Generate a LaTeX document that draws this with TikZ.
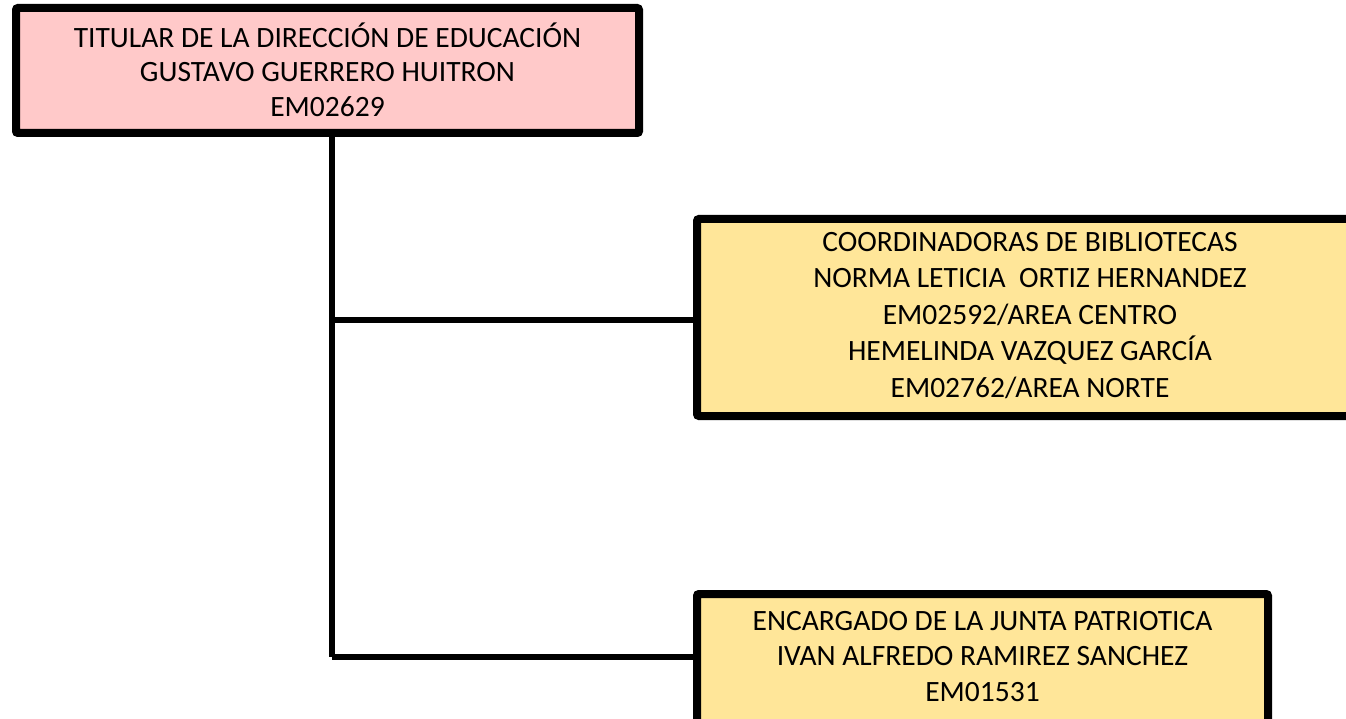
\documentclass[tikz,border=0pt]{standalone}
\usepackage{fontspec}
\setmainfont{Carlito}
\definecolor{pinkfill}{HTML}{FFC9C9}
\definecolor{goldfill}{HTML}{FFE699}
\begin{document}
\begin{tikzpicture}[x=1pt,y=-1pt,
  box/.style={draw=black,line width=8pt,rounded corners=2pt,inner sep=0pt},
  txt/.style={align=center,inner sep=0pt},
  conn/.style={draw=black,line width=5.5pt}]
\useasboundingbox (0,0) rectangle (1346,719);
\node[box,fill=pinkfill,minimum width=623pt,minimum height=125pt] (top) at (327.5,70.5) {};
\node[txt,font=\fontsize{29.5}{34.5}\selectfont] (toptxt) at (327.5,69.5) {TITULAR DE LA DIRECCIÓN DE EDUCACIÓN\\GUSTAVO GUERRERO HUITRON\\EM02629};
\node[box,fill=goldfill,minimum width=663pt,minimum height=197pt] (mid) at (1028.5,317.5) {};
\node[txt,font=\fontsize{29.5}{36.5}\selectfont] (midtxt) at (1030,315.5) {COORDINADORAS DE BIBLIOTECAS\\NORMA LETICIA\ \ ORTIZ HERNANDEZ\\EM02592/AREA CENTRO\\HEMELINDA VAZQUEZ GARCÍA\\EM02762/AREA NORTE};
\node[box,fill=goldfill,minimum width=571pt,minimum height=146pt] (bot) at (982.5,667) {};
\node[txt,font=\fontsize{29.5}{35.5}\selectfont] (bottxt) at (982.5,656.5) {ENCARGADO DE LA JUNTA PATRIOTICA\\IVAN ALFREDO RAMIREZ SANCHEZ\\EM01531};
\coordinate (j1) at (332,320);
\coordinate (j2) at (332,657);
\draw[conn] (top.south -| j1) -- (j2);
\draw[conn] (j1) -- (j1 -| mid.west);
\draw[conn] (j2) -- (j2 -| bot.west);
\end{tikzpicture}
\end{document}
